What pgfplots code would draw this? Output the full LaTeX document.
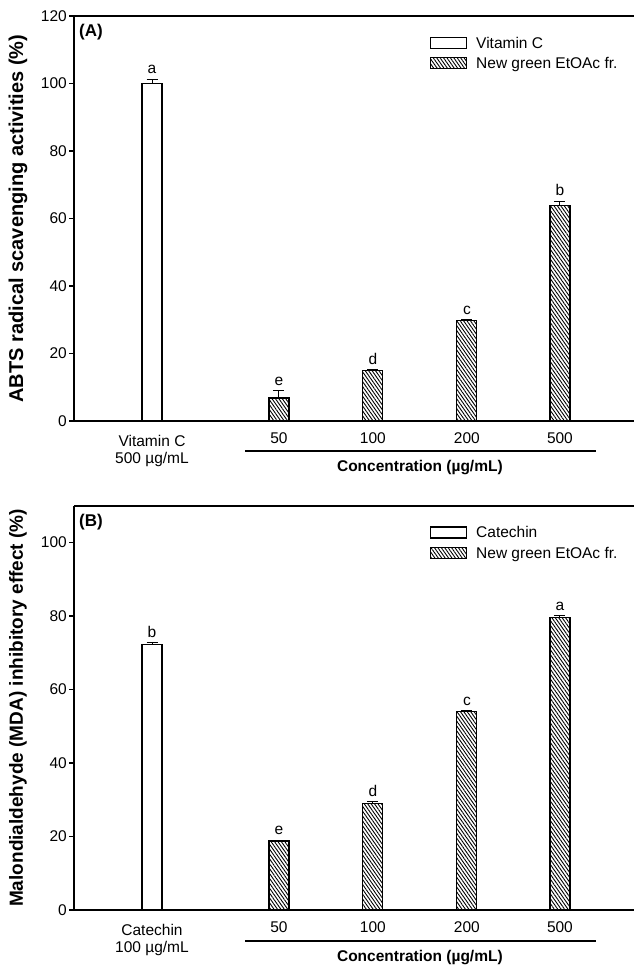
\documentclass[border=0pt]{standalone}
\usepackage{fontspec}
\setmainfont{Liberation Sans}
\usepackage{pgfplots}
\usepackage{pgfplotstable}
\pgfplotsset{compat=1.18}
\usetikzlibrary{patterns.meta}

\newcommand\tk{\fontsize{15.5bp}{17bp}\selectfont}

% panel A: ABTS
\pgfplotstableread{
x y e lab
0 100.0 1.3 a
}\ctlA
\pgfplotstableread{
x y e lab
1.35 6.8 2.2 e
2.35 15.0 0.3 d
3.35 29.8 0.3 c
4.34 63.8 1.3 b
}\smpA
% panel B: MDA
\pgfplotstableread{
x y e lab
0 72.2 0.6 b
}\ctlB
\pgfplotstableread{
x y e lab
1.35 18.8 0.2 e
2.35 28.9 0.5 d
3.35 54.0 0.3 c
4.34 79.6 0.4 a
}\smpB

\pgfplotsset{
  panel/.style={
    scale only axis, width=560bp, anchor=north west,
    xmin=-0.83, xmax=5.128, ymin=0,
    axis x line=box, axis y line=left,
    axis line style={-, line width=1.6bp},
    every outer x axis line/.append style={-},
    every outer y axis line/.append style={-},
    clip=false,
    tick align=outside, major tick length=5bp,
    ytick style={line width=1.2bp, black},
    xtick style={draw=none},
    xtick={1.35,2.35,3.35,4.34},
    xticklabels={50,100,200,500},
    tick label style={font=\tk},
    xticklabel style={align=center, anchor=north, inner sep=0pt, yshift=-6bp},
    yticklabel style={inner sep=2bp},
    /pgf/number format/assume math mode=true,
    extra x ticks={0},
    extra x tick style={tick label style={yshift=-3.5bp}},
    legend cell align=left,
    legend style={at={(axis description cs:0.6357,0.949)}, anchor=north west,
      draw=none, fill=none, inner sep=0pt, outer sep=0pt, row sep=6bp, font=\tk,
      nodes={inner sep=0pt, text height=11bp, text depth=3bp},
      /tikz/every odd column/.append style={column sep=9bp}},
  },
  ylab/.style={every axis y label/.style={at={(axis description cs:-0.1,0.5)}, rotate=90,
      anchor=center, font=\bfseries\fontsize{#1}{22bp}\selectfont}},
  box/.style={legend image code/.code={\draw[##1, line width=1.2bp] (0bp,-4bp) rectangle (36bp,7bp);}},
  errs/.style={error bars/.cd, y dir=plus, y explicit,
    error bar style={line width=1bp, black},
    error mark options={rotate=90, line width=1bp, mark size=5.5bp, black}},
  ctl/.style={ybar, bar shift=0pt, bar width=20bp, draw=black, line width=1.2bp, fill=white, box, errs},
  smp/.style={ybar, bar shift=0pt, bar width=20bp, draw=black, line width=1.2bp,
    pattern={Lines[angle=-55, distance=2.8bp, line width=0.9bp]}, pattern color=black, box, errs},
  letters/.style={draw=none, mark=none, forget plot,
    nodes near coords, point meta=explicit symbolic,
    every node near coord/.append style={font=\tk, anchor=south, inner sep=0pt, yshift=5bp}},
}

\begin{document}
\begin{tikzpicture}
\path[use as bounding box] (0,0) rectangle (634bp,-967bp);

\begin{axis}[panel, ylab=20bp, at={(74bp,-16bp)}, height=405bp, ymax=120, ytick={0,20,...,120},
  extra x tick labels={Vitamin C\\500 µg/mL},
  ylabel={ABTS radical scavenging activities (\%)}]
\addplot[ctl] table[x=x, y=y, y error=e] \ctlA;
\addplot[smp] table[x=x, y=y, y error=e] \smpA;
\addplot[letters] table[x=x, y expr=\thisrow{y}+\thisrow{e}, meta=lab] \ctlA;
\addplot[letters] table[x=x, y expr=\thisrow{y}+\thisrow{e}, meta=lab] \smpA;
\legend{Vitamin C, New green EtOAc fr.}
\node[font=\bfseries\fontsize{17bp}{20bp}\selectfont, anchor=north west, inner sep=0pt]
  at ([xshift=5bp, yshift=-8bp]rel axis cs:0,1) {(A)};
\draw[line width=1.6bp] ([yshift=-30bp]axis cs:0.99,0) -- ([yshift=-30bp]axis cs:4.72,0);
\node[font=\bfseries\tk, anchor=north, inner sep=0pt] at ([yshift=-39bp]axis cs:2.85,0)
  {Concentration (µg/mL)};
\end{axis}

\begin{axis}[panel, ylab=19bp, at={(74bp,-505.7bp)}, height=404.3bp, ymax=110, ytick={0,20,...,100},
  extra x tick labels={Catechin\\100 µg/mL},
  ylabel={Malondialdehyde (MDA) inhibitory effect (\%)}]
\addplot[ctl] table[x=x, y=y, y error=e] \ctlB;
\addplot[smp] table[x=x, y=y, y error=e] \smpB;
\addplot[letters] table[x=x, y expr=\thisrow{y}+\thisrow{e}, meta=lab] \ctlB;
\addplot[letters] table[x=x, y expr=\thisrow{y}+\thisrow{e}, meta=lab] \smpB;
\legend{Catechin, New green EtOAc fr.}
\node[font=\bfseries\fontsize{17bp}{20bp}\selectfont, anchor=north west, inner sep=0pt]
  at ([xshift=5bp, yshift=-8bp]rel axis cs:0,1) {(B)};
\draw[line width=1.6bp] ([yshift=-31bp]axis cs:0.99,0) -- ([yshift=-31bp]axis cs:4.72,0);
\node[font=\bfseries\tk, anchor=north, inner sep=0pt] at ([yshift=-40bp]axis cs:2.85,0)
  {Concentration (µg/mL)};
\end{axis}
\end{tikzpicture}
\end{document}
